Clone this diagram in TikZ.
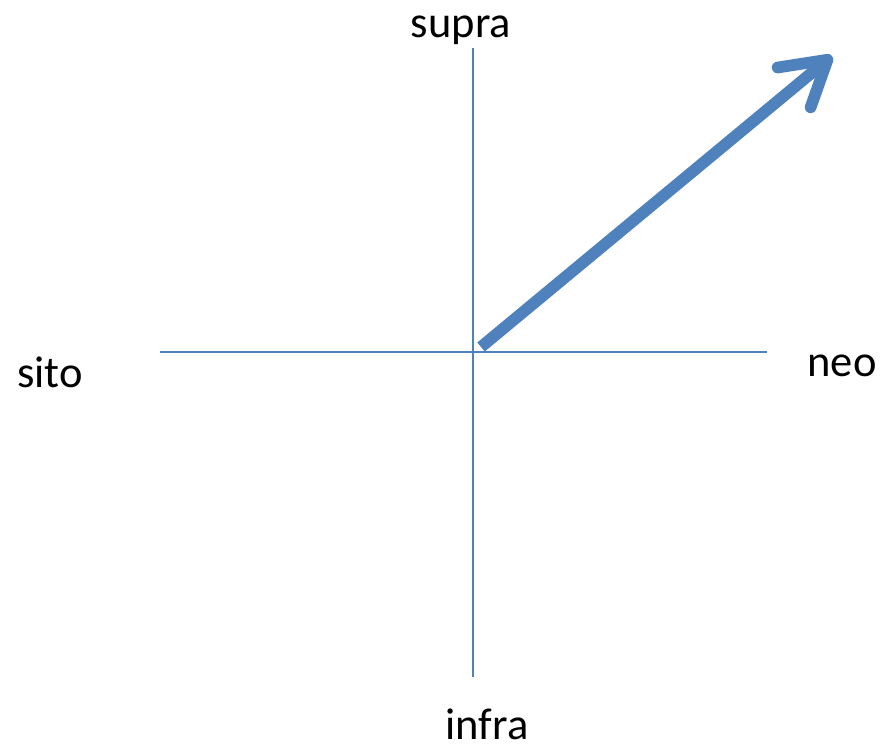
\documentclass[tikz,border=0pt]{standalone}
\usepackage{fontspec}
\setmainfont{Carlito}
\usetikzlibrary{arrows.meta}
\definecolor{axisblue}{HTML}{4F81BD}

\begin{document}
\begin{tikzpicture}[
  x=0.03cm,y=-0.03cm,
  axis/.style={draw=axisblue,line width=1.7pt},
  pointer/.style={draw=axisblue,line width=10pt,
    -{Straight Barb[length=1.3cm,width=1.55cm,round]}},
  pole/.style={font=\fontsize{38}{44}\selectfont,anchor=base,inner sep=0pt}
]
\useasboundingbox (0,0) rectangle (891,748);

% the four poles
\node[pole] (supra) at (461,37) {supra};
\node[pole] (infra) at (487,739) {infra};
\node[pole] (sito) at (50,387) {sito};
\node[pole] (neo) at (842,376) {neo};

% ends of the cross
\coordinate (top) at (473,48);
\coordinate (bottom) at (473,677);
\coordinate (left) at (160,352);
\coordinate (right) at (767,352);
\coordinate (origin) at (481,347);
\coordinate (aim) at (832,56);

\draw[axis] (top) -- (bottom);
\draw[axis] (left) -- (right);
\draw[pointer] (origin) -- (aim);
\end{tikzpicture}
\end{document}
